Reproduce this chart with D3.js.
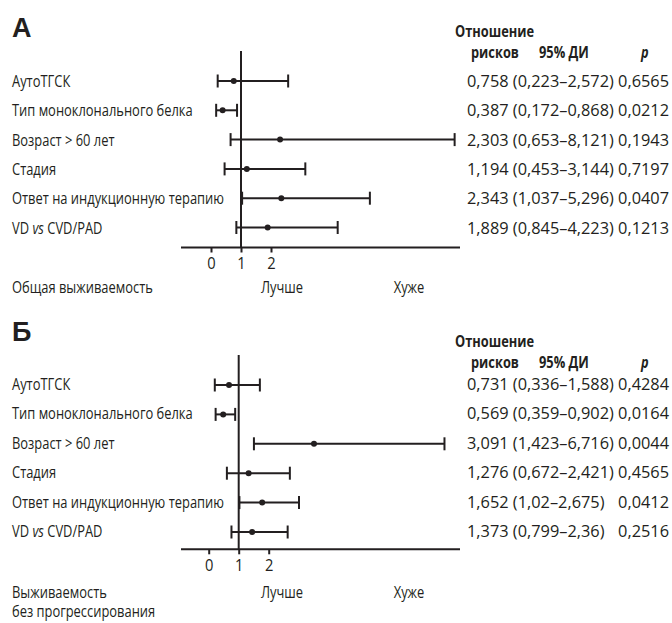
<!DOCTYPE html>
<html><head><meta charset="utf-8">
<script src="https://cdn.jsdelivr.net/npm/d3@7"></script>
<style>
body{margin:0;background:#fff;}
svg text{font-family:"Open Sans",sans-serif;fill:#231f20;}
</style></head>
<body><svg id="c" width="672" height="623"></svg>
<script>
const rowLabels = ["АутоТГСК","Тип моноклонального белка","Возраст > 60 лет","Стадия","Ответ на индукционную терапию","VD vs CVD/PAD"];
const tickValues = [0,1,2];
const tickLabels = ["0","1","2"];

// Panel A — overall survival
const hrA = [0.758,0.387,2.303,1.194,2.343,1.889];
const loA = [0.223,0.172,0.653,0.453,1.037,0.845];
const hiA = [2.572,0.868,8.121,3.144,5.296,4.223];
const pA  = ["0,6565","0,0212","0,1943","0,7197","0,0407","0,1213"];

// Panel B — progression-free survival
const hrB = [0.731,0.569,3.091,1.276,1.652,1.373];
const loB = [0.336,0.359,1.423,0.672,1.02,0.799];
const hiB = [1.588,0.902,6.716,2.421,2.675,2.36];
const pB  = ["0,4284","0,0164","0,0044","0,4565","0,0412","0,2516"];

const svg = d3.select("#c");
const ink = "#231f20";
const FS = 16.3;
const fmt = v => String(v).replace(".", ",");

function measure(str, bold){
  const t = svg.append("text").style("font-size",FS+"px").style("font-weight",bold?"bold":"normal").text(str);
  const w = t.node().getComputedTextLength(); t.remove(); return w;
}
// horizontal condensing factors so text widths match the condensed original face
const SC = {
  lab: 212 / measure("Ответ на индукционную терапию", false),
  num: 202 / measure("0,758 (0,223–2,572) 0,6565", false),
  bold: 79 / measure("Отношение", true)
};
// table column positions derived from the first row's widths
const colHR = 467;
const colCI = colHR + SC.num * (measure("0,758 (") - measure("("));
const colP  = 669 - SC.num * measure("0,6565");

function txt(parent, x, y, str, opt={}){
  const s = SC[opt.kind || "lab"];
  const t = parent.append("text")
    .attr("transform",`translate(${x},${y}) scale(${s},1)`)
    .style("font-size",FS+"px");
  if(opt.kind==="bold") t.style("font-weight","bold");
  if(opt.italic) t.style("font-style","italic");
  if(opt.anchor) t.attr("text-anchor",opt.anchor);
  if(str.indexOf(" vs ")>=0){
    const parts = str.split(" vs ");
    t.append("tspan").text(parts[0]+" ");
    t.append("tspan").text("vs").style("font-style","italic");
    t.append("tspan").text(" "+parts[1]);
  } else t.text(str);
  return t;
}

function panel(o){
  const g = svg.append("g");
  g.append("text").attr("x",12).attr("y",o.titleY).text(o.title)
    .style("font-family","'Liberation Sans',Arial,sans-serif").style("font-weight","bold").style("font-size","27px");
  const y = d3.scalePoint().domain(rowLabels).range([o.base0, o.base0 + 5*o.step]);
  const x = d3.scaleLinear().domain([0,1]).range([o.one - o.unit, o.one]);
  const xt = d3.scaleLinear().domain([0,1]).range([o.one - 30, o.one]);
  rowLabels.forEach(lab=>txt(g, 12, y(lab), lab));
  // reference line at HR = 1
  g.append("line").attr("x1",x(1)).attr("x2",x(1)).attr("y1",o.vTop).attr("y2",o.axisY)
    .attr("stroke",ink).attr("stroke-width",2);
  // axis line
  g.append("line").attr("x1",181).attr("x2",460).attr("y1",o.axisY).attr("y2",o.axisY)
    .attr("stroke",ink).attr("stroke-width",2);
  const ax = g.append("g").attr("transform",`translate(0,${o.axisY})`)
    .call(d3.axisBottom(xt).tickValues(tickValues).tickFormat((d,i)=>tickLabels[i]).tickSize(5).tickPadding(5));
  ax.select(".domain").remove();
  ax.selectAll(".tick line").attr("stroke",ink).attr("stroke-width",2);
  ax.selectAll(".tick text").style("font-size",FS+"px").style("font-family","'Open Sans',sans-serif")
    .attr("fill",ink).attr("transform",`scale(${SC.num*0.9},1)`);
  // error bars
  const rows = rowLabels.map((lab,i)=>({lab, hr:o.hr[i], lo:o.lo[i], hi:o.hi[i], p:o.p[i]}));
  const bars = g.selectAll("g.bar").data(rows).join("g").attr("class","bar")
    .attr("transform",d=>`translate(0,${y(d.lab)-o.barOff})`);
  bars.append("line").attr("x1",d=>x(d.lo)).attr("x2",d=>x(d.hi)).attr("stroke",ink).attr("stroke-width",2);
  bars.append("line").attr("x1",d=>x(d.lo)).attr("x2",d=>x(d.lo)).attr("y1",-6.5).attr("y2",6.5).attr("stroke",ink).attr("stroke-width",2);
  bars.append("line").attr("x1",d=>x(d.hi)).attr("x2",d=>x(d.hi)).attr("y1",-6.5).attr("y2",6.5).attr("stroke",ink).attr("stroke-width",2);
  bars.append("circle").attr("cx",d=>x(d.hr)).attr("r",3).attr("fill",ink);
  // table
  txt(g, 455, o.hdrY, "Отношение", {kind:"bold"});
  txt(g, 471, o.hdrY+20.5, "рисков", {kind:"bold"});
  txt(g, 539, o.hdrY+20.5, "95% ДИ", {kind:"bold"});
  txt(g, 641, o.hdrY+20.5, "p", {kind:"bold", italic:true});
  rows.forEach(d=>{
    txt(g, colHR, y(d.lab), fmt(d.hr), {kind:"num"});
    txt(g, colCI, y(d.lab), "("+fmt(d.lo)+"–"+fmt(d.hi)+")", {kind:"num"});
    txt(g, colP, y(d.lab), d.p, {kind:"num"});
  });
  // bottom captions
  o.caption.forEach((c,i)=>txt(g, 12, o.capY+i*19, c));
  txt(g, 282, o.capY, "Лучше", {anchor:"middle"});
  txt(g, 409, o.capY, "Хуже", {anchor:"middle"});
}

panel({title:"А", titleY:37, base0:87, step:29.3, barOff:6, one:241, unit:30, vTop:51, axisY:247.5,
  hr:hrA, lo:loA, hi:hiA, p:pA, hdrY:37, capY:293, caption:["Общая выживаемость"]});
panel({title:"Б", titleY:341, base0:390, step:29.4, barOff:5, one:238.7, unit:36, vTop:355, axisY:549.3,
  hr:hrB, lo:loB, hi:hiB, p:pB, hdrY:347, capY:598, caption:["Выживаемость","без прогрессирования"]});
</script></body></html>
